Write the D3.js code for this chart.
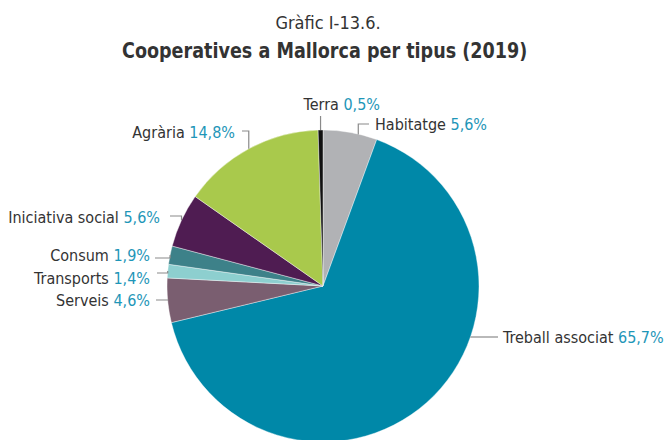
<!DOCTYPE html>
<html>
<head>
<meta charset="utf-8">
<script src="https://cdn.jsdelivr.net/npm/d3@7"></script>
<style>
  body { margin: 0; background: #fff; }
  text { font-family: "DejaVu Sans Condensed", "Liberation Sans Narrow", "Open Sans", sans-serif; }
</style>
</head>
<body>
<svg id="chart" width="665" height="440"></svg>
<script>
// dades
const tipus = ["Habitatge", "Treball associat", "Serveis", "Transports", "Consum", "Iniciativa social", "Agrària", "Terra"];
const percentatges = [5.6, 65.7, 4.6, 1.4, 1.9, 5.6, 14.8, 0.5];
const colors = ["#b1b2b5", "#0088a8", "#7a5e70", "#8dcfcf", "#3d8189", "#4f1c52", "#a9c94c", "#111111"];

const svg = d3.select("#chart");
const cx = 323, cy = 286, radi = 156;

// estreny un text horitzontalment (la lletra de l'original es mes estreta)
function estreny(sel, factor) {
    const len = sel.node().getComputedTextLength();
    sel.attr("textLength", len * factor).attr("lengthAdjust", "spacingAndGlyphs");
}

// titol
svg.append("text")
    .attr("x", 328).attr("y", 29)
    .attr("text-anchor", "middle")
    .attr("font-size", 18)
    .attr("fill", "#333")
    .text("Gràfic I-13.6.");

svg.append("text")
    .attr("x", 122).attr("y", 58)
    .attr("font-size", 21)
    .attr("font-weight", "bold")
    .attr("fill", "#333")
    .text("Cooperatives a Mallorca per tipus (2019)")
    .call(estreny, 0.93);

const dades = tipus.map((t, i) => ({ tipus: t, valor: percentatges[i], color: colors[i] }));

const pie = d3.pie().sort(null).value(d => d.valor);
const arc = d3.arc().innerRadius(0).outerRadius(radi);
const arcs = pie(dades);

const g = svg.append("g").attr("transform", `translate(${cx},${cy})`);

g.selectAll("path")
    .data(arcs)
    .enter()
    .append("path")
    .attr("d", arc)
    .attr("fill", d => d.data.color)
    .attr("stroke", "#fff")
    .attr("stroke-width", 0.4);

// posicio de les etiquetes (relativa al centre)
// ly = altura de la linia, lx = extrem de la linia, dt = desplaçament vertical del text, gap = espai linia-text
const etiquetes = {
    "Terra":             { tipus: "up",    ly: -174, tx: -17 },
    "Habitatge":         { tipus: "right", ly: -162, lx: 46, gap: 6 },
    "Agrària":           { tipus: "left",  ly: -155, lx: -81, gap: 7, dt: 1 },
    "Iniciativa social": { tipus: "left",  ly: -70,  lx: -153, gap: 10, dt: 1 },
    "Consum":            { tipus: "left",  ly: -28,  lx: -168, gap: 5, dt: -3 },
    "Transports":        { tipus: "left",  ly: -13,  lx: -166, gap: 7, dt: 5 },
    "Serveis":           { tipus: "left",  ly: 14,   lx: -167, gap: 6 },
    "Treball associat":  { tipus: "edge",  ly: 51,   lx: 175, gap: 5 }
};

const linia = "#8a8a8a";

arcs.forEach(a => {
    const e = etiquetes[a.data.tipus];
    const mig = (a.startAngle + a.endAngle) / 2;
    let px = radi * Math.sin(mig), py = -radi * Math.cos(mig);
    let punts, tx, ty, anchor;

    if (e.tipus === "up") {
        punts = [[px, py], [px, e.ly + 4]];
        tx = px + e.tx; ty = e.ly; anchor = "start";
    } else if (e.tipus === "edge") {
        // punt de l'arc a l'altura de l'etiqueta
        py = e.ly;
        px = Math.sqrt(radi * radi - py * py);
        punts = [[px, py], [e.lx, py]];
        tx = e.lx + e.gap; ty = py; anchor = "start";
    } else if (e.tipus === "right") {
        punts = [[px + 8, py + 2], [px + 8, e.ly], [e.lx, e.ly]];
        tx = e.lx + e.gap; ty = e.ly; anchor = "start";
    } else {
        punts = [[px, py], [px, e.ly], [e.lx, e.ly]];
        tx = e.lx - e.gap; ty = e.ly + (e.dt || 0); anchor = "end";
    }

    g.append("path")
        .attr("d", d3.line()(punts))
        .attr("fill", "none")
        .attr("stroke", linia)
        .attr("stroke-width", 1.2);

    const t = g.append("text")
        .attr("x", tx)
        .attr("y", ty)
        .attr("dy", e.tipus === "up" ? "-0.1em" : "0.36em")
        .attr("text-anchor", anchor)
        .attr("font-size", 16)
        .attr("fill", "#333");
    t.append("tspan").text(a.data.tipus + " ");
    t.append("tspan").attr("fill", "#1e96b8")
        .text(String(a.data.valor.toFixed(1)).replace(".", ",") + "%");
});
</script>
</body>
</html>
